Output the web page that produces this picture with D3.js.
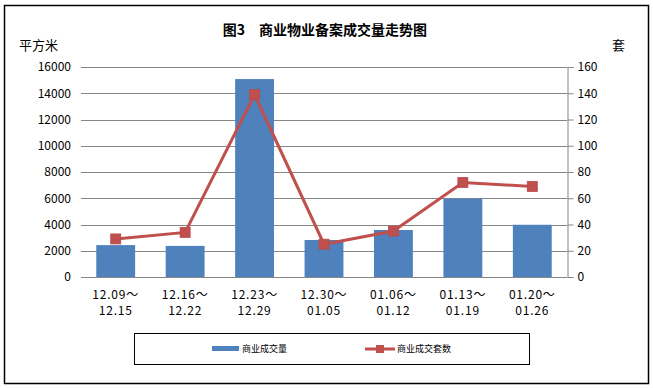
<!DOCTYPE html>
<html><head><meta charset="utf-8">
<script src="https://cdn.jsdelivr.net/npm/d3@7/dist/d3.min.js"></script>
<style>body{margin:0;background:#fff}svg{display:block}text{font-family:"Noto Sans CJK SC","Noto Sans",sans-serif}</style>
</head><body><svg id="c" width="653" height="388"></svg>
<script>
const categoriesTop = ["12.09～","12.16～","12.23～","12.30～","01.06～","01.13～","01.20～"];
const categoriesBottom = ["12.15","12.22","12.29","01.05","01.12","01.19","01.26"];
const area = [2430, 2370, 15080, 2820, 3580, 5970, 3980];
const units = [29, 34, 139, 25, 35, 72, 69];
const leftTicks = [0,2000,4000,6000,8000,10000,12000,14000,16000];
const rightTicks = [0,20,40,60,80,100,120,140,160];
const seriesNames = ["商业成交量","商业成交套数"];
const title = "图3　商业物业备案成交量走势图";

const svg = d3.select("#c");
const L = 81, R = 567, T = 67, B = 277;
const blue = "#4F81BD", red = "#C0504D";

svg.append("rect").attr("x",4.5).attr("y",5.5).attr("width",644).attr("height",378)
  .attr("fill","#fff").attr("stroke","#000").attr("stroke-width",1.5);

const x = d3.scaleBand().domain(d3.range(categoriesTop.length)).range([L,R]).paddingInner(0.44).paddingOuter(0.22);
const xc = i => x(i) + x.bandwidth()/2;
const yL = d3.scaleLinear().domain([0,16000]).range([B,T]);
const yR = d3.scaleLinear().domain([0,160]).range([B,T]);

svg.append("g").selectAll("line").data(leftTicks).join("line")
  .attr("x1",L).attr("x2",R).attr("y1",d=>Math.round(yL(d))+0.5).attr("y2",d=>Math.round(yL(d))+0.5)
  .attr("stroke","#868686").attr("stroke-width",1);

const gl = svg.append("g").attr("transform",`translate(${L},0)`)
  .call(d3.axisLeft(yL).tickValues(leftTicks).tickSize(0).tickPadding(10).tickFormat(d3.format("d")));
gl.select(".domain").remove();
gl.selectAll("text").attr("font-size",12).attr("fill","#000").attr("font-family","'Liberation Sans',sans-serif");

const gr = svg.append("g").attr("transform",`translate(${R+0.5},0)`)
  .call(d3.axisRight(yR).tickValues(rightTicks).tickSize(6).tickPadding(4).tickFormat(d3.format("d")));
gr.select(".domain").attr("stroke","#868686");
gr.selectAll(".tick line").attr("stroke","#868686");
gr.selectAll("text").attr("font-size",12).attr("fill","#000").attr("font-family","'Liberation Sans',sans-serif");

svg.append("g").selectAll("rect").data(area).join("rect")
  .attr("x",(d,i)=>x(i)).attr("width",x.bandwidth())
  .attr("y",d=>yL(d)).attr("height",d=>B-yL(d)).attr("fill",blue);

const line = d3.line().x((d,i)=>xc(i)).y(d=>yR(d));
svg.append("path").datum(units).attr("d",line).attr("fill","none").attr("stroke",red).attr("stroke-width",3);
svg.append("g").selectAll("rect").data(units).join("rect")
  .attr("x",(d,i)=>xc(i)-5).attr("y",d=>yR(d)-5).attr("width",10).attr("height",10)
  .attr("fill",red).attr("stroke","#B84A47").attr("stroke-width",0.8);

const gx = svg.append("g");
categoriesTop.forEach((c,i)=>{
  gx.append("text").attr("x",xc(i)).attr("y",299).attr("text-anchor","middle").attr("font-size",12).attr("letter-spacing",0.8).text(c);
  gx.append("text").attr("x",xc(i)).attr("y",315).attr("text-anchor","middle").attr("font-size",12).attr("letter-spacing",0.8).text(categoriesBottom[i]);
});

svg.append("text").attr("x",325).attr("y",35).attr("text-anchor","middle").attr("font-size",14).attr("font-weight","bold").text(title);
svg.append("text").attr("x",19).attr("y",50).attr("font-size",13).text("平方米");
svg.append("text").attr("x",612).attr("y",50).attr("font-size",13).text("套");

svg.append("rect").attr("x",134.5).attr("y",333.5).attr("width",395).attr("height",31).attr("fill","none").attr("stroke","#000").attr("stroke-width",1);
svg.append("rect").attr("x",212).attr("y",346).attr("width",27).attr("height",5).attr("fill",blue);
svg.append("text").attr("x",242).attr("y",352).attr("font-size",9).text(seriesNames[0]);
svg.append("line").attr("x1",365).attr("x2",395).attr("y1",349).attr("y2",349).attr("stroke",red).attr("stroke-width",3);
svg.append("rect").attr("x",376).attr("y",345).attr("width",8).attr("height",8).attr("fill",red);
svg.append("text").attr("x",397).attr("y",352).attr("font-size",9).text(seriesNames[1]);
</script></body></html>
